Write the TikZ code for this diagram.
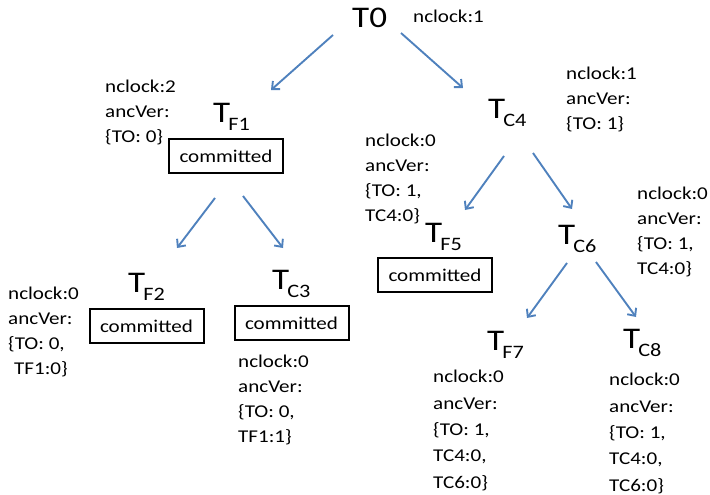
\documentclass[tikz,border=0pt]{standalone}
\usepackage{fontspec}
\setmainfont{Carlito}[FakeStretch=1.17]
\usetikzlibrary{arrows.meta}
\definecolor{arrblue}{RGB}{79,129,189}
\newcommand\bigT{\fontsize{30}{30}\selectfont}
\newcommand\subT{\fontsize{19}{19}\selectfont}
\newcommand\Tsub[1]{{\bigT T}\kern-2pt\raisebox{-8pt}{\subT #1}}
\tikzset{
  tnode/.style={inner sep=0pt, anchor=base west},
  lbl/.style={inner sep=0pt, anchor=base west, align=left, font=\fontsize{18}{25}\selectfont},
  lblwide/.style={lbl, font=\fontsize{18}{26.3}\selectfont},
  combox/.style={draw, line width=2pt, minimum width=114pt, minimum height=34pt, inner sep=0pt, font=\fontsize{18}{22}\selectfont},
  arr/.style={draw=arrblue, line width=1.9pt, -{Straight Barb[length=6pt,width=11pt]}}
}
\begin{document}
\begin{tikzpicture}[x=1pt,y=-1pt]
\useasboundingbox (0,0) rectangle (710,495);
% transaction nodes
\node[tnode] (T0) at (352,28) {\bigT T0};
\node[tnode] (TF1) at (213,122) {\Tsub{F1}};
\node[tnode] (TC4) at (488,118) {\Tsub{C4}};
\node[tnode] (TF2) at (128,292) {\Tsub{F2}};
\node[tnode] (TC3) at (272,289) {\Tsub{C3}};
\node[tnode] (TF5) at (425,242) {\Tsub{F5}};
\node[tnode] (TC6) at (558,244) {\Tsub{C6}};
\node[tnode] (TF7) at (487,350) {\Tsub{F7}};
\node[tnode] (TC8) at (623,348) {\Tsub{C8}};
% committed boxes
\node[combox] (bF1) at (226,156) {committed};
\node[combox] (bF2) at (146.5,326) {committed};
\node[combox] (bC3) at (291.5,323) {committed};
\node[combox] (bF5) at (435,275) {committed};
% labels (anchored at the baseline of their last line)
\node[lbl] (l0) at (413,23) {nclock:1};
\node[lbl] (lF1) at (105,142) {nclock:2\\ancVer:\\\{TO: 0\}};
\node[lbl] (lC4) at (566,129) {nclock:1\\ancVer:\\\{TO: 1\}};
\node[lbl] (lF5) at (365,221) {nclock:0\\ancVer:\\\{TO: 1,\\TC4:0\}};
\node[lbl] (lC6) at (637,274) {nclock:0\\ancVer:\\\{TO: 1,\\TC4:0\}};
\node[lbl] (lF2) at (8,374) {nclock:0\\ancVer:\\\{TO: 0,\\\hspace*{6pt}TF1:0\}};
\node[lbl] (lC3) at (238,442) {nclock:0\\ancVer:\\\{TO: 0,\\TF1:1\}};
\node[lblwide] (lF7) at (433,488) {nclock:0\\ancVer:\\\{TO: 1,\\TC4:0,\\TC6:0\}};
\node[lblwide] (lC8) at (609,491) {nclock:0\\ancVer:\\\{TO: 1,\\TC4:0,\\TC6:0\}};
% arrows
\draw[arr] ([shift={(-19,7)}]T0.base west) -- ([shift={(58,-32)}]TF1.base west);
\draw[arr] ([shift={(49,5)}]T0.base west) -- ([shift={(-25,-30)}]TC4.base west);
\draw[arr] ([shift={(-11,24)}]bF1.south) -- ([shift={(49,-44)}]TF2.base west);
\draw[arr] ([shift={(17,22)}]bF1.south) -- ([shift={(11,-41)}]TC3.base west);
\draw[arr] ([shift={(16,38)}]TC4.base west) -- ([shift={(40,-32)}]TF5.base west);
\draw[arr] ([shift={(45,35)}]TC4.base west) -- ([shift={(14,-35)}]TC6.base west);
\draw[arr] ([shift={(9,19)}]TC6.base west) -- ([shift={(40,-32)}]TF7.base west);
\draw[arr] ([shift={(38,18)}]TC6.base west) -- ([shift={(13,-31)}]TC8.base west);
\end{tikzpicture}
\end{document}
